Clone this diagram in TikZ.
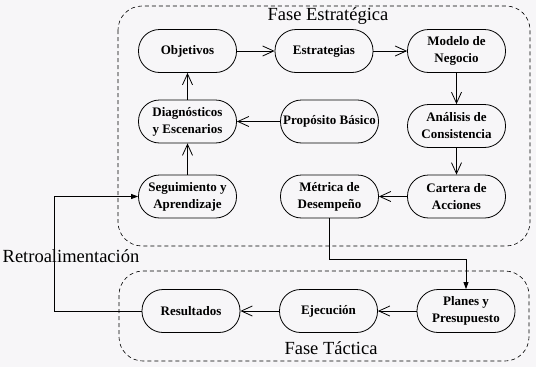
\documentclass[tikz,border=0pt]{standalone}
\usepackage{fontspec}
\setmainfont{Liberation Serif}
\usetikzlibrary{arrows.meta}
\definecolor{fondo}{RGB}{247,246,248}
\begin{document}
\begin{tikzpicture}[x=1pt, y=-1pt, line width=0.8pt,
  every node/.style={font=\fontsize{13}{17}\selectfont\bfseries, align=center},
  etapa/.style={draw, rounded corners=21pt, minimum width=98pt, minimum height=43pt, inner sep=0pt},
  fase/.style={draw, dash pattern=on 4pt off 3pt, line width=0.6pt, rounded corners=24pt},
  rotulo/.style={font=\fontsize{18.5}{20}\selectfont},
  flecha/.style={-{Straight Barb[length=11pt,width=10pt]}},
  retro/.style={-{Triangle[length=7pt,width=5pt]}}]
  \useasboundingbox (0,0) rectangle (536,367);
  \fill[fondo] (0,0) rectangle (536,367);
  % fases
  \draw[fase] (118,6) rectangle (530,246);
  \draw[fase] (119,271) rectangle (529,361);
  \node[rotulo] (festr) at (328,16) {Fase Estratégica};
  \node[rotulo] (ftact) at (331,348) {Fase Táctica};
  \node[rotulo] (fretro) at (71,256) {Retroalimentación};
  % etapas
  \node[etapa] (obj)  at (187.5,51)   {Objetivos};
  \node[etapa] (estr) at (324,51)     {Estrategias};
  \node[etapa] (mod)  at (456.5,51)   {Modelo de\\Negocio};
  \node[etapa] (diag) at (187.5,121.5) {Diagnósticos\\y Escenarios};
  \node[etapa] (prop) at (329.5,121.5) {Propósito Básico};
  \node[etapa] (anal) at (456.5,126)  {Análisis de\\Consistencia};
  \node[etapa] (seg)  at (187.5,196.5) {Seguimiento y\\Aprendizaje};
  \node[etapa] (met)  at (329.5,196.5) {Métrica de\\Desempeño};
  \node[etapa] (cart) at (456.5,196.5) {Cartera de\\Acciones};
  \node[etapa] (plan) at (466,311)    {Planes y\\Presupuesto};
  \node[etapa] (ejec) at (328.5,311)  {Ejecución};
  \node[etapa] (res)  at (191,311)    {Resultados};
  % flujo
  \draw[flecha] (obj) -- (estr);
  \draw[flecha] (estr) -- (mod);
  \draw[flecha] (mod) -- (anal);
  \draw[flecha] (anal) -- (cart);
  \draw[flecha] (cart) -- (met);
  \draw[flecha] (prop) -- (diag);
  \draw[flecha] (diag) -- (obj);
  \draw[flecha] (seg) -- (diag);
  \draw[flecha] (plan) -- (ejec);
  \draw[flecha] (ejec) -- (res);
  % enlaces entre fases
  \coordinate (bajada) at (466,259);
  \coordinate (codo) at (54,311);
  \draw[retro] (met.south) |- (bajada) -- (plan.north);
  \draw[retro] (res.west) -- (codo) |- (seg.west);
\end{tikzpicture}
\end{document}
